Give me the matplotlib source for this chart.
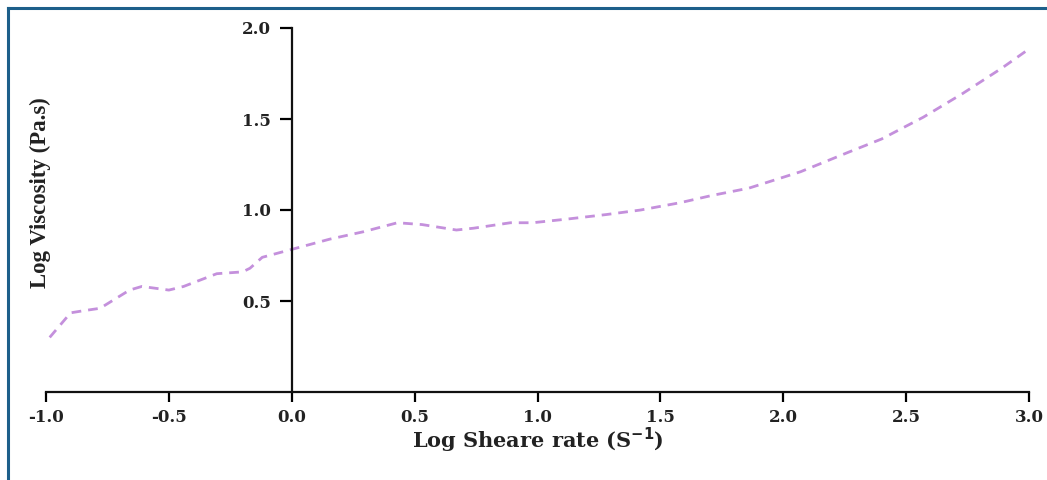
import matplotlib
matplotlib.use("Agg")
import matplotlib.pyplot as plt
from matplotlib.lines import Line2D

# Data
log_shear = [-0.985, -0.90, -0.85, -0.78, -0.66, -0.61, -0.50, -0.44, -0.305, -0.20,
             -0.17, -0.12, -0.01, 0.155, 0.29, 0.43, 0.53, 0.67, 0.74, 0.89, 0.98,
             1.12, 1.28, 1.42, 1.58, 1.71, 1.86, 2.00, 2.07, 2.27, 2.40, 2.57,
             2.73, 2.89, 2.995]
log_visc = [0.30, 0.435, 0.446, 0.46, 0.56, 0.58, 0.56, 0.58, 0.65, 0.66,
            0.68, 0.74, 0.78, 0.84, 0.88, 0.93, 0.92, 0.89, 0.90, 0.93, 0.93,
            0.95, 0.975, 1.00, 1.04, 1.08, 1.12, 1.18, 1.21, 1.32, 1.39, 1.51,
            1.64, 1.78, 1.88]
x_ticks = [-1.0, -0.5, 0.0, 0.5, 1.0, 1.5, 2.0, 2.5, 3.0]
x_tick_labels = ["-1.0", "-0.5", "0.0", "0.5", "1.0", "1.5", "2.0", "2.5", "3.0"]
y_ticks = [0.5, 1.0, 1.5, 2.0]
y_tick_labels = ["0.5", "1.0", "1.5", "2.0"]
x_label = "Log Sheare rate (S$^{\\mathbf{-1}}$)"
y_label = "Log Viscosity (Pa.s)"

W, H = 1047, 480
fig = plt.figure(figsize=(W / 100, H / 100), dpi=100)
ax = fig.add_axes([46 / W, 1 - 392 / H, (1029 - 46) / W, (392 - 28) / H])

ax.plot(log_shear, log_visc, color="#c490dc", lw=2.0, dashes=(3.5, 2.5),
        clip_on=False)

ax.set_xlim(-1.0, 3.0)
ax.set_ylim(0.0, 2.0)

for s in ["top", "right"]:
    ax.spines[s].set_visible(False)
ax.spines["left"].set_position(("data", 0.0))
ax.spines["left"].set_bounds(0.0, 2.0)
for s in ["left", "bottom"]:
    ax.spines[s].set_linewidth(1.6)
    ax.spines[s].set_color("#111111")

ax.set_xticks(x_ticks)
ax.set_xticklabels(x_tick_labels)
ax.set_yticks(y_ticks)
ax.set_yticklabels(y_tick_labels)

for lab in ax.get_xticklabels() + ax.get_yticklabels():
    lab.set_fontfamily("DejaVu Serif")
    lab.set_fontweight("bold")
    lab.set_fontsize(12)
    lab.set_color("#222222")

ax.tick_params(axis="x", direction="out", length=7, width=1.6, pad=5)
ax.tick_params(axis="y", direction="out", length=9, width=1.6, pad=6)

fig.text(538 / W, 1 - 440 / H, x_label, ha="center", va="center",
         family="DejaVu Serif", weight="bold", fontsize=15, color="#222222")
fig.text(40 / W, 1 - 193 / H, y_label, ha="center", va="center", rotation=90,
         family="Liberation Serif", weight="bold", fontsize=16.5, color="#222222")

# blue frame (top and left edges visible)
frame_color = "#1d5f8a"
fig.add_artist(Line2D([8 / W, 1.0], [1 - 8 / H, 1 - 8 / H], color=frame_color,
                      lw=2.2, transform=fig.transFigure))
fig.add_artist(Line2D([8 / W, 8 / W], [0.0, 1 - 8 / H], color=frame_color,
                      lw=2.2, transform=fig.transFigure))

fig.savefig("out.png", dpi=100)
